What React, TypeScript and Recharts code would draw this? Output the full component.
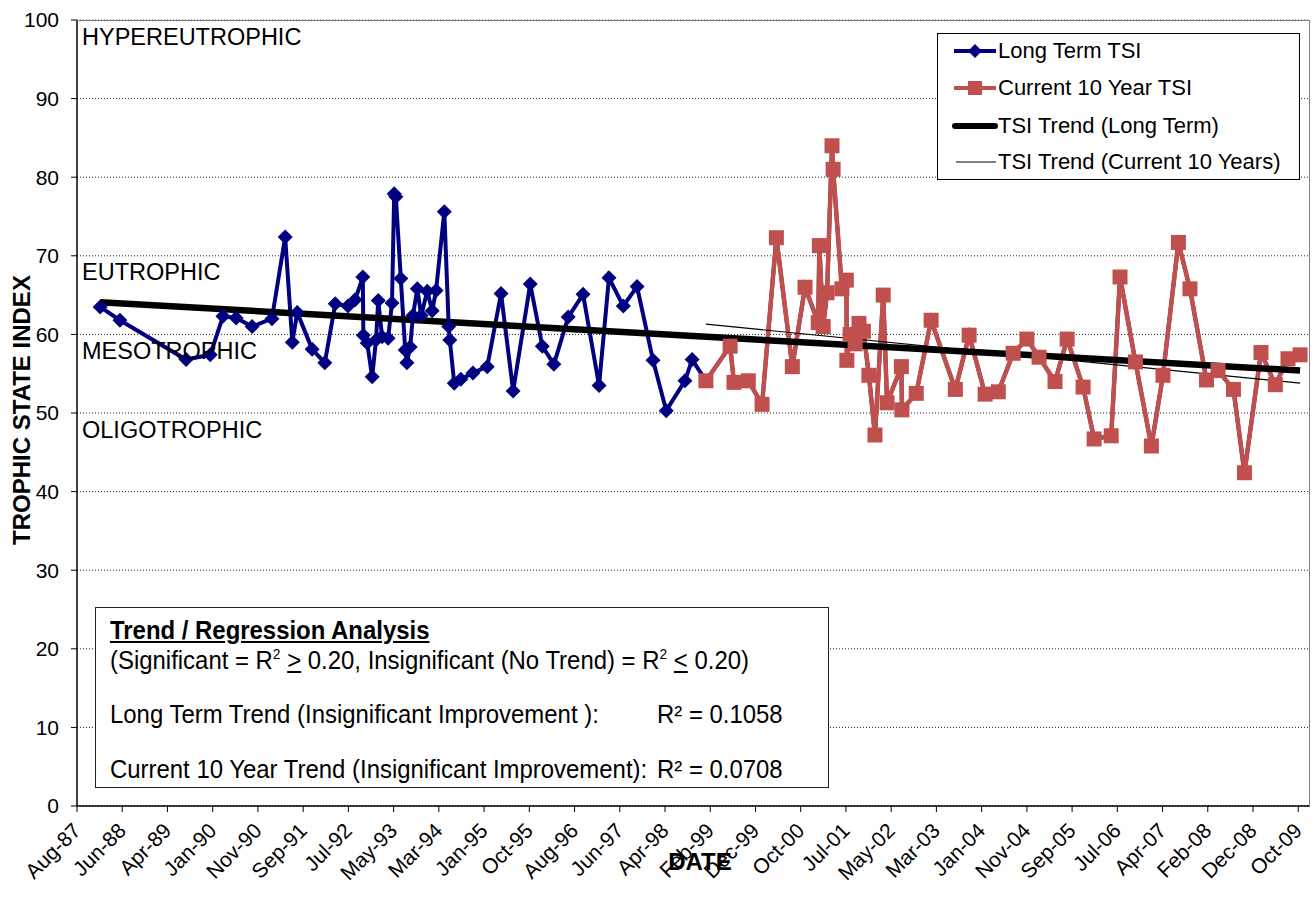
import React from "react";
import { ComposedChart, Line, XAxis, YAxis, CartesianGrid } from "recharts";

const FONT = "'Liberation Sans', Arial, sans-serif";
const NARROW = "'Liberation Sans Narrow', 'Arial Narrow', 'Liberation Sans', sans-serif";
const BLUE = "#000080";
const RED = "#C0504D";

// x axis: Excel date axis, one label every 300 days from Aug-87
const tickLabels = [
  "Aug-87", "Jun-88", "Apr-89", "Jan-90", "Nov-90", "Sep-91", "Jul-92",
  "May-93", "Mar-94", "Jan-95", "Oct-95", "Aug-96", "Jun-97", "Apr-98",
  "Feb-99", "Dec-99", "Oct-00", "Jul-01", "May-02", "Mar-03", "Jan-04",
  "Nov-04", "Sep-05", "Jul-06", "Apr-07", "Feb-08", "Dec-08", "Oct-09",
];
const axisStart = 1987.61;
const axisEnd = 2010.0;
const tickStep = 300 / 365.25;

const zoneLabels = ["HYPEREUTROPHIC", "EUTROPHIC", "MESOTROPHIC", "OLIGOTROPHIC"];

// sample dates as decimal years
const longTermYears = [
  1988.03, 1988.39, 1989.59, 1990.03, 1990.26, 1990.5, 1990.79, 1991.15, 1991.39,
  1991.52, 1991.61, 1991.88, 1992.11, 1992.3, 1992.53, 1992.66, 1992.8, 1992.81,
  1992.88, 1992.97, 1993.04, 1993.08, 1993.15, 1993.26, 1993.33, 1993.37, 1993.4,
  1993.49, 1993.57, 1993.6, 1993.66, 1993.71, 1993.79, 1993.86, 1993.97, 1994.06,
  1994.13, 1994.28, 1994.36, 1994.38, 1994.46, 1994.58, 1994.8, 1995.06, 1995.31,
  1995.53, 1995.84, 1996.06, 1996.27, 1996.53, 1996.8, 1997.09, 1997.27, 1997.53,
  1997.78, 1998.07, 1998.31, 1998.65, 1998.78,
];
const longTermTsi = [
  63.5, 61.8, 56.8, 57.4, 62.3, 62.1, 61.0, 62.0, 72.4,
  59.0, 62.8, 58.1, 56.4, 63.9, 63.6, 64.4, 67.3, 59.9,
  58.9, 54.6, 59.3, 64.3, 59.7, 59.5, 64.0, 77.9, 77.5,
  67.1, 58.0, 56.4, 58.4, 62.4, 65.8, 62.4, 65.5, 63.0,
  65.6, 75.6, 61.0, 59.3, 53.8, 54.3, 55.1, 55.9, 65.2,
  52.8, 66.4, 58.5, 56.2, 62.2, 65.1, 53.5, 67.2, 63.6,
  66.1, 56.7, 50.3, 54.1, 56.8,
];

const currentYears = [
  1999.03, 1999.47, 1999.54, 1999.8, 2000.05, 2000.31, 2000.6, 2000.83, 2001.07,
  2001.09, 2001.16, 2001.23, 2001.32, 2001.34, 2001.5, 2001.58, 2001.59, 2001.65,
  2001.74, 2001.81, 2001.89, 2001.99, 2002.1, 2002.25, 2002.32, 2002.58, 2002.59,
  2002.85, 2003.12, 2003.56, 2003.81, 2004.1, 2004.34, 2004.61, 2004.86, 2005.08,
  2005.37, 2005.59, 2005.88, 2006.08, 2006.39, 2006.55, 2006.83, 2007.12, 2007.33,
  2007.61, 2007.82, 2008.12, 2008.33, 2008.61, 2008.81, 2009.11, 2009.37, 2009.6,
  2009.82,
];
const currentTsi = [
  54.1, 58.5, 53.9, 54.1, 51.1, 72.3, 55.9, 66.0, 61.5,
  71.3, 61.0, 65.3, 84.0, 81.0, 65.8, 66.9, 56.7, 60.0,
  58.8, 61.4, 60.4, 54.8, 47.2, 65.0, 51.3, 55.9, 50.4,
  52.5, 61.8, 53.0, 59.9, 52.4, 52.7, 57.6, 59.4, 57.1,
  54.0, 59.4, 53.3, 46.7, 47.1, 67.3, 56.5, 45.8, 54.8,
  71.7, 65.8, 54.2, 55.4, 53.0, 42.4, 57.7, 53.6, 56.9,
  57.4,
];

// linear trend end points
const longTrendYears = [1988.03, 2009.82];
const longTrendTsi = [64.1, 55.4];
const currentTrendYears = [1999.03, 2009.82];
const currentTrendTsi = [61.3, 53.8];

const toRows = (years: number[], vals: number[]) =>
  years.map((year, i) => ({ year, tsi: vals[i] }));

// the long term series runs through the whole record, the 10 year one sits on top
const longTermData = toRows([...longTermYears, ...currentYears], [...longTermTsi, ...currentTsi]);
const currentData = toRows(currentYears, currentTsi);
const longTrendData = toRows(longTrendYears, longTrendTsi);
const currentTrendData = toRows(currentTrendYears, currentTrendTsi);

const xTicks = tickLabels.map((_, i) => axisStart + i * tickStep);

const Diamond = (props: any) => {
  const { cx, cy, index } = props;
  if (cx == null || cy == null || index >= longTermYears.length) return <g key={`d${index}`} />;
  const r = 7.5;
  return (
    <polygon
      key={`d${index}`}
      points={`${cx},${cy - r} ${cx + r},${cy} ${cx},${cy + r} ${cx - r},${cy}`}
      fill={BLUE}
    />
  );
};

const Square = (props: any) => {
  const { cx, cy, index } = props;
  if (cx == null || cy == null) return <g key={`s${index}`} />;
  const r = 7.5;
  return <rect key={`s${index}`} x={cx - r} y={cy - r} width={2 * r} height={2 * r} fill={RED} />;
};

const XTick = (props: any) => {
  const { x, y, payload } = props;
  const i = Math.round((payload.value - axisStart) / tickStep);
  const tx = x + 5;
  const ty = y + 18;
  return (
    <text
      x={tx}
      y={ty}
      transform={`rotate(-45 ${tx} ${ty})`}
      textAnchor="end"
      fontSize={21}
      fontFamily={FONT}
      fill="#000"
    >
      {tickLabels[i]}
    </text>
  );
};

const LegendRow = ({ top, kind, label }: { top: number; kind: string; label: string }) => (
  <div style={{ position: "absolute", left: 0, top: top - 13, height: 26, width: 360 }}>
    <svg width={60} height={26} style={{ position: "absolute", left: 14, top: 0 }}>
      {kind === "blue" && (
        <>
          <line x1={2} y1={13} x2={44} y2={13} stroke={BLUE} strokeWidth={4} />
          <polygon points="23,6 30,13 23,20 16,13" fill={BLUE} />
        </>
      )}
      {kind === "red" && (
        <>
          <line x1={2} y1={13} x2={44} y2={13} stroke={RED} strokeWidth={4} />
          <rect x={16} y={6} width={14} height={14} fill={RED} />
        </>
      )}
      {kind === "thick" && (
        <line x1={3} y1={13} x2={43} y2={13} stroke="#000" strokeWidth={6} strokeLinecap="round" />
      )}
      {kind === "thin" && <line x1={4} y1={13} x2={44} y2={13} stroke="#000" strokeWidth={1} />}
    </svg>
    <span
      style={{
        position: "absolute",
        left: 60,
        top: 0,
        lineHeight: "26px",
        fontSize: 22,
        fontFamily: FONT,
        whiteSpace: "nowrap",
      }}
    >
      {label}
    </span>
  </div>
);

const Sup = ({ children }: { children: React.ReactNode }) => (
  <span style={{ fontSize: 15, position: "relative", top: -10, lineHeight: 0 }}>{children}</span>
);

const zoneTops = [37, 272, 351, 430];

export default function App() {
  const line = (top: number, children: React.ReactNode, left = 110) => (
    <div
      style={{
        position: "absolute",
        left: left - 96.5,
        top: top - 608.5 - 15,
        height: 30,
        lineHeight: "30px",
        fontSize: 26,
        fontFamily: NARROW,
        whiteSpace: "nowrap",
        transform: "scaleX(0.92)",
        transformOrigin: "0 50%",
      }}
    >
      {children}
    </div>
  );

  return (
    <div style={{ position: "absolute", left: 0, top: 0, width: 1315, height: 899, background: "#fff" }}>
      <ComposedChart
        width={1315}
        height={899}
        margin={{ top: 20, right: 5, bottom: 0, left: 0 }}
      >
        <CartesianGrid vertical={false} stroke="#222" strokeDasharray="1 2" />
        <XAxis
          dataKey="year"
          type="number"
          domain={[axisStart, axisEnd]}
          ticks={xTicks}
          interval={0}
          height={93}
          allowDataOverflow
          tick={<XTick />}
          tickSize={6}
          axisLine={{ stroke: "#000", strokeWidth: 1.5 }}
          tickLine={{ stroke: "#000" }}
        />
        <YAxis
          type="number"
          domain={[0, 100]}
          ticks={[0, 10, 20, 30, 40, 50, 60, 70, 80, 90, 100]}
          width={77}
          tickSize={6}
          tickMargin={12}
          tick={{ fontSize: 21, fontFamily: FONT, fill: "#000" }}
          axisLine={{ stroke: "#000", strokeWidth: 1.5 }}
          tickLine={{ stroke: "#000" }}
        />
        <Line
          data={longTermData}
          dataKey="tsi"
          stroke={BLUE}
          strokeWidth={4}
          dot={Diamond}
          activeDot={false}
          isAnimationActive={false}
        />
        <Line
          data={currentData}
          dataKey="tsi"
          stroke={RED}
          strokeWidth={4.5}
          dot={Square}
          activeDot={false}
          isAnimationActive={false}
        />
        <Line
          data={longTrendData}
          dataKey="tsi"
          stroke="#000"
          strokeWidth={6.5}
          dot={false}
          activeDot={false}
          isAnimationActive={false}
        />
        <Line
          data={currentTrendData}
          dataKey="tsi"
          stroke="#000"
          strokeWidth={1.2}
          dot={false}
          activeDot={false}
          isAnimationActive={false}
        />
      </ComposedChart>

      {/* plot area frame (top and right) */}
      <div
        style={{
          position: "absolute",
          left: 77,
          top: 20,
          width: 1233,
          height: 786,
          borderTop: "1.5px solid #808080",
          borderRight: "1.5px solid #808080",
          boxSizing: "border-box",
          pointerEvents: "none",
        }}
      />

      {zoneLabels.map((z, i) => (
        <div
          key={z}
          style={{
            position: "absolute",
            left: 82,
            top: zoneTops[i] - 14,
            lineHeight: "28px",
            fontSize: 23.5,
            fontFamily: FONT,
            whiteSpace: "nowrap",
          }}
        >
          {z}
        </div>
      ))}

      {/* legend */}
      <div
        style={{
          position: "absolute",
          left: 937,
          top: 33,
          width: 363,
          height: 147,
          border: "1px solid #000",
          background: "#fff",
          boxSizing: "border-box",
        }}
      >
        <LegendRow top={50 - 33} kind="blue" label="Long Term TSI" />
        <LegendRow top={87 - 33} kind="red" label="Current 10 Year TSI" />
        <LegendRow top={125 - 33} kind="thick" label="TSI Trend (Long Term)" />
        <LegendRow top={161 - 33} kind="thin" label="TSI Trend (Current 10 Years)" />
      </div>

      {/* regression text box */}
      <div
        style={{
          position: "absolute",
          left: 95,
          top: 607,
          width: 734,
          height: 181,
          border: "1.5px solid #222",
          background: "#fff",
          boxSizing: "border-box",
        }}
      >
        {line(630, <b style={{ textDecoration: "underline" }}>Trend / Regression Analysis</b>)}
        {line(
          660,
          <span>
            (Significant = R<Sup>2</Sup> <u>&gt;</u> 0.20, Insignificant (No Trend) = R<Sup>2</Sup>{" "}
            <u>&lt;</u> 0.20)
          </span>
        )}
        {line(714, "Long Term Trend (Insignificant Improvement ):")}
        {line(714, "R² = 0.1058", 657)}
        {line(769, "Current 10 Year Trend (Insignificant Improvement):")}
        {line(769, "R² = 0.0708", 657)}
      </div>

      {/* axis titles */}
      <div
        style={{
          position: "absolute",
          left: 22,
          top: 410,
          transform: "translate(-50%, -50%) rotate(-90deg)",
          fontSize: 24,
          fontWeight: "bold",
          fontFamily: FONT,
          whiteSpace: "nowrap",
        }}
      >
        TROPHIC STATE INDEX
      </div>
      <div
        style={{
          position: "absolute",
          left: 700,
          top: 862,
          transform: "translate(-50%, -50%)",
          fontSize: 24,
          fontWeight: "bold",
          fontFamily: FONT,
          whiteSpace: "nowrap",
        }}
      >
        DATE
      </div>
    </div>
  );
}
